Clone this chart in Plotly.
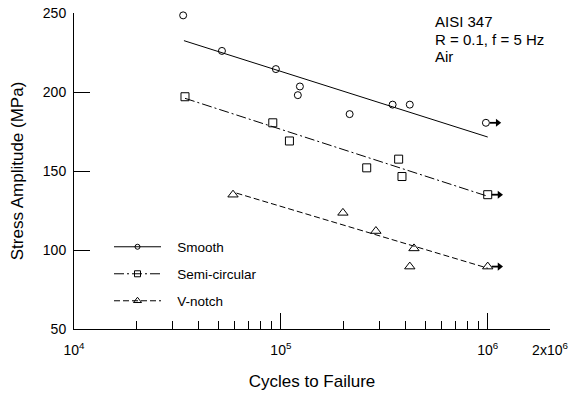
import plotly.graph_objects as go
import numpy as np

# ---------------- data ----------------
smooth_N = [33700, 51900, 94600, 123600, 120800, 215000, 347000, 420000]
smooth_S = [248.5, 226, 214.5, 203.5, 198, 186, 192, 192]
smooth_runout_N = [980000]
smooth_runout_S = [180.5]
smooth_fit_N = [34000, 1000000]
smooth_fit_S = [232.5, 171.5]

semi_N = [34400, 91400, 110000, 260000, 371000, 385000]
semi_S = [197, 180.5, 169, 152, 157.5, 146.5]
semi_runout_N = [1000000]
semi_runout_S = [135]
semi_fit_N = [34400, 1000000]
semi_fit_S = [196, 134]

vnotch_N = [58700, 199500, 288000, 440000, 420000]
vnotch_S = [135, 123.5, 112, 101, 89.5]
vnotch_runout_N = [1000000]
vnotch_runout_S = [89.5]
vnotch_fit_N = [61000, 1000000]
vnotch_fit_S = [136, 88.5]

legend_names = ["Smooth", "Semi-circular", "V-notch"]
x_tickvals = [1e4, 1e5, 1e6, 2e6]
x_ticktext = ["10<sup>4</sup>", "10<sup>5</sup>", "10<sup>6</sup>", "2x10<sup>6</sup>"]
x_minor = [k * 10 ** e for e in (4, 5) for k in range(2, 10)]
y_tickvals = [50, 100, 150, 200, 250]
info_lines = ["AISI 347", "R = 0.1, f = 5 Hz", "Air"]

FONT = "Liberation Sans, Arial, sans-serif"
BLACK = "#000000"

# ---------------- figure ----------------
fig = go.Figure()

series = [
    (smooth_N + smooth_runout_N, smooth_S + smooth_runout_S, smooth_fit_N, smooth_fit_S,
     "circle-open", 7, 5, "solid", "legend"),
    (semi_N + semi_runout_N, semi_S + semi_runout_S, semi_fit_N, semi_fit_S,
     "square-open", 8, 6, "10px,3px,2px,3px", "legend2"),
    (vnotch_N + vnotch_runout_N, vnotch_S + vnotch_runout_S, vnotch_fit_N, vnotch_fit_S,
     "triangle-up-open", 9, 7, "6px,3px", "legend3"),
]

PAD = "\u00a0\u00a0\u00a0"
for name, (xn, ys, fx, fy, sym, msize, lsize, dash, leg) in zip(legend_names, series):
    fig.add_trace(go.Scatter(x=fx, y=fy, mode="lines", showlegend=False,
                             line=dict(color=BLACK, width=1, dash=dash), hoverinfo="skip"))
    fig.add_trace(go.Scatter(x=xn, y=ys, mode="markers", showlegend=False,
                             marker=dict(symbol=sym, size=msize, color=BLACK,
                                         line=dict(color=BLACK, width=1)),
                             cliponaxis=False))
    fig.add_trace(go.Scatter(x=[None], y=[None], mode="lines+markers", name=PAD + name,
                             legend=leg,
                             line=dict(color=BLACK, width=1, dash=dash),
                             marker=dict(symbol=sym, size=lsize, color=BLACK,
                                         line=dict(color=BLACK, width=1))))

# run-out arrows (shaft + head), placed relative to each run-out point
for rn, rs in [(smooth_runout_N, smooth_runout_S), (semi_runout_N, semi_runout_S),
               (vnotch_runout_N, vnotch_runout_S)]:
    for n, s in zip(rn, rs):
        fig.add_trace(go.Scatter(x=[n * 1.045, n * 1.13], y=[s, s], mode="lines",
                                 showlegend=False, hoverinfo="skip", cliponaxis=False,
                                 line=dict(color=BLACK, width=1.8)))
        fig.add_trace(go.Scatter(x=[n * 1.14], y=[s], mode="markers",
                                 showlegend=False, hoverinfo="skip", cliponaxis=False,
                                 marker=dict(symbol="triangle-right", size=7, color=BLACK,
                                             line=dict(width=0))))

# info text
annotations = []
top_px, bottom_px = 13, 329
for line, py in zip(info_lines, [21.5, 39, 56.5]):
    annotations.append(dict(x=(433 - 74) / 476, y=(bottom_px - py) / (bottom_px - top_px),
                            xref="paper", yref="paper", xanchor="left", yanchor="middle",
                            text=line, showarrow=False,
                            font=dict(family=FONT, size=15, color=BLACK)))

legend_common = dict(xanchor="left", yanchor="middle", bgcolor="rgba(0,0,0,0)",
                     borderwidth=0, itemwidth=47,
                     font=dict(family=FONT, size=13.5, color=BLACK))
leg_x = (109 - 74) / 476
fig.update_layout(
    legend=dict(x=leg_x, y=(329 - 247) / 316, **legend_common),
    legend2=dict(x=leg_x, y=(329 - 274) / 316, **legend_common),
    legend3=dict(x=leg_x, y=(329 - 301) / 316, **legend_common),
)

fig.update_layout(
    width=576, height=399,
    margin=dict(l=74, r=26, t=13, b=70, pad=0),
    paper_bgcolor="white", plot_bgcolor="white",
    font=dict(family=FONT, size=14, color=BLACK),
    annotations=annotations,
    xaxis=dict(type="log", range=[4, np.log10(2e6)], showline=True, linecolor=BLACK,
               linewidth=1, showgrid=False, zeroline=False, mirror=False,
               tickmode="array", tickvals=x_tickvals, ticktext=x_ticktext,
               ticks="inside", ticklen=16, tickcolor=BLACK, tickwidth=1,
               ticklabelstandoff=8,
               minor=dict(tickvals=x_minor, ticks="inside", ticklen=8,
                          tickcolor=BLACK, tickwidth=1, showgrid=False),
               tickfont=dict(family=FONT, size=14, color=BLACK),
               title=dict(text="Cycles to Failure", standoff=18,
                          font=dict(family=FONT, size=17, color=BLACK)),
               automargin=False),
    yaxis=dict(range=[50, 250], showline=True, linecolor=BLACK, linewidth=1,
               showgrid=False, zeroline=False, mirror=False,
               tickmode="array", tickvals=y_tickvals,
               ticks="inside", ticklen=16, tickcolor=BLACK, tickwidth=1,
               ticklabelstandoff=4,
               tickfont=dict(family=FONT, size=14, color=BLACK),
               title=dict(text="Stress Amplitude (MPa)", standoff=14,
                          font=dict(family=FONT, size=17, color=BLACK)),
               automargin=False),
)

fig.write_html("out.html")
